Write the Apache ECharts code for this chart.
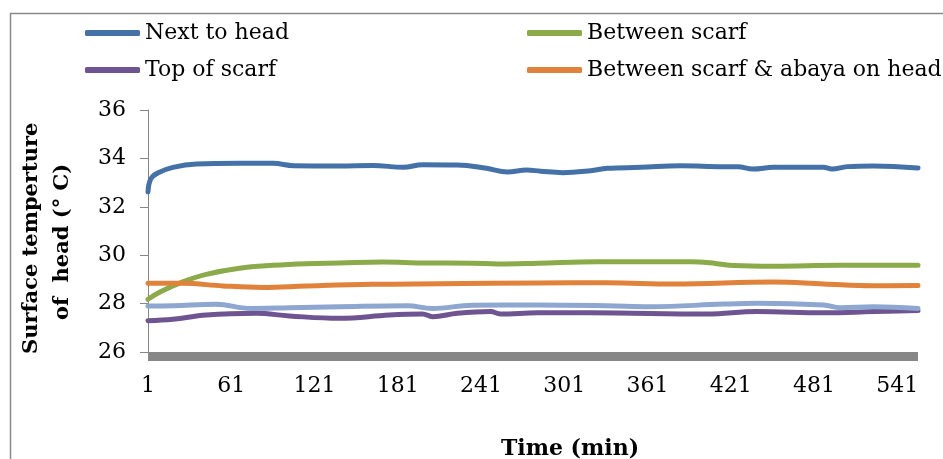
<!DOCTYPE html>
<html>
<head>
<meta charset="utf-8">
<script src="https://cdn.jsdelivr.net/npm/echarts@6/dist/echarts.min.js"></script>
<style>
html,body{margin:0;padding:0;background:#fff;}
#chart{width:943px;height:459px;}
</style>
</head>
<body>
<div id="chart"></div>
<script>
// Time categories (minutes)
const timeCount = 556;
const timeCategories = Array.from({length: timeCount}, (_, i) => String(i + 1));

// Next to head
const headTimes = [1, 3, 8, 19, 36, 67, 91, 106, 139, 163, 185, 199, 224, 245, 260, 274, 284, 300, 320, 332, 356, 385, 416, 426, 437, 452, 488, 494, 505, 524, 556];
const headValues = [32.62, 33.15, 33.40, 33.63, 33.77, 33.80, 33.80, 33.70, 33.69, 33.71, 33.63, 33.74, 33.73, 33.59, 33.44, 33.52, 33.47, 33.41, 33.49, 33.59, 33.63, 33.70, 33.66, 33.66, 33.56, 33.63, 33.63, 33.56, 33.66, 33.69, 33.60];

// Between scarf
const betweenTimes = [1, 10, 26, 43, 67, 91, 115, 139, 170, 199, 235, 253, 282, 325, 392, 410, 423, 452, 500, 556];
const betweenValues = [28.18, 28.49, 28.90, 29.21, 29.46, 29.58, 29.65, 29.68, 29.72, 29.68, 29.67, 29.64, 29.67, 29.73, 29.73, 29.66, 29.57, 29.54, 29.58, 29.58];

// Top of scarf
const topTimes = [1, 19, 43, 79, 103, 139, 175, 199, 206, 224, 248, 255, 282, 320, 404, 440, 488, 524, 556];
const topValues = [27.29, 27.35, 27.53, 27.60, 27.49, 27.39, 27.53, 27.57, 27.46, 27.60, 27.67, 27.57, 27.62, 27.62, 27.57, 27.67, 27.62, 27.67, 27.71];

// Between scarf & abaya on head
const abayaTimes = [1, 26, 55, 84, 115, 163, 212, 282, 332, 380, 452, 488, 524, 556];
const abayaValues = [28.84, 28.84, 28.73, 28.67, 28.73, 28.80, 28.82, 28.85, 28.86, 28.81, 28.89, 28.81, 28.74, 28.75];

// Unlabelled light-blue series
const extraTimes = [1, 19, 50, 75, 103, 139, 188, 206, 235, 282, 332, 363, 416, 440, 488, 500, 524, 556];
const extraValues = [27.90, 27.91, 27.97, 27.80, 27.83, 27.87, 27.91, 27.80, 27.93, 27.94, 27.91, 27.87, 27.98, 28.01, 27.94, 27.83, 27.87, 27.80];

const yTicks = {min: 26, max: 36, interval: 2};

function pairs(ts, vs) { return ts.map((t, i) => [String(t), vs[i]]); }

const FONT = 'DejaVu Serif';
function lineSeries(name, ts, vs, color) {
  return {
    name: name, type: 'line', data: pairs(ts, vs), symbol: 'none', smooth: 0.4,
    lineStyle: {color: color, width: 5, cap: 'round', join: 'round'},
    itemStyle: {color: color}
  };
}

const NB = '\u00a0';
const chart = echarts.init(document.getElementById('chart'), null, {renderer: 'canvas'});
chart.setOption({
  animation: false,
  backgroundColor: '#fff',
  graphic: [{
    type: 'rect', shape: {x: 10.5, y: 13.5, width: 1000, height: 600},
    style: {fill: 'none', stroke: '#8a8a8a', lineWidth: 1.5}, silent: true, z: -1
  }],
  legend: [{
    data: ['Next to head', 'Top of scarf'], orient: 'vertical', left: 85, top: 22, padding: 0,
    itemWidth: 55, itemHeight: 6, icon: 'roundRect', itemGap: 15,
    textStyle: {fontFamily: FONT, fontSize: 22, color: '#000'}
  }, {
    data: ['Between scarf', 'Between scarf & abaya on head'], orient: 'vertical', left: 527, top: 22, padding: 0,
    itemWidth: 55, itemHeight: 6, icon: 'roundRect', itemGap: 15,
    textStyle: {fontFamily: FONT, fontSize: 22, color: '#000'}
  }],
  grid: {left: 148, right: 25, top: 110, bottom: 107, containLabel: false, outerBoundsMode: 'none'},
  xAxis: {
    type: 'category', data: timeCategories, boundaryGap: false, offset: 4,
    axisLine: {lineStyle: {color: '#878787', width: 9, cap: 'butt'}},
    axisTick: {show: false},
    axisLabel: {interval: 59, margin: 19, fontFamily: FONT, fontSize: 22, color: '#000'},
    name: 'Time (min)', nameLocation: 'middle', nameGap: 82,
    nameTextStyle: {fontFamily: FONT, fontSize: 22, fontWeight: 'bold', color: '#000', padding: [0, 0, 0, 74]}
  },
  yAxis: {
    type: 'value', min: yTicks.min, max: yTicks.max, interval: yTicks.interval,
    axisLine: {show: true, lineStyle: {color: '#868686', width: 1}},
    axisTick: {show: true, length: 8, lineStyle: {color: '#868686'}},
    splitLine: {show: false},
    axisLabel: {margin: 22, fontFamily: FONT, fontSize: 22, color: '#000'},
    name: 'Surface temperture' + NB + NB + '\nof' + NB + ' head (° C)' + NB + NB + NB,
    nameLocation: 'middle', nameGap: 70,
    nameTextStyle: {fontFamily: FONT, fontSize: 21, fontWeight: 'bold', color: '#000', lineHeight: 31}
  },
  series: [
    lineSeries('Next to head', headTimes, headValues, '#4472A8'),
    lineSeries('Between scarf', betweenTimes, betweenValues, '#8BAA4A'),
    lineSeries('Top of scarf', topTimes, topValues, '#6E5491'),
    lineSeries('Between scarf & abaya on head', abayaTimes, abayaValues, '#E0823A'),
    lineSeries('extra', extraTimes, extraValues, '#8EA7D0')
  ]
});
</script>
</body>
</html>
